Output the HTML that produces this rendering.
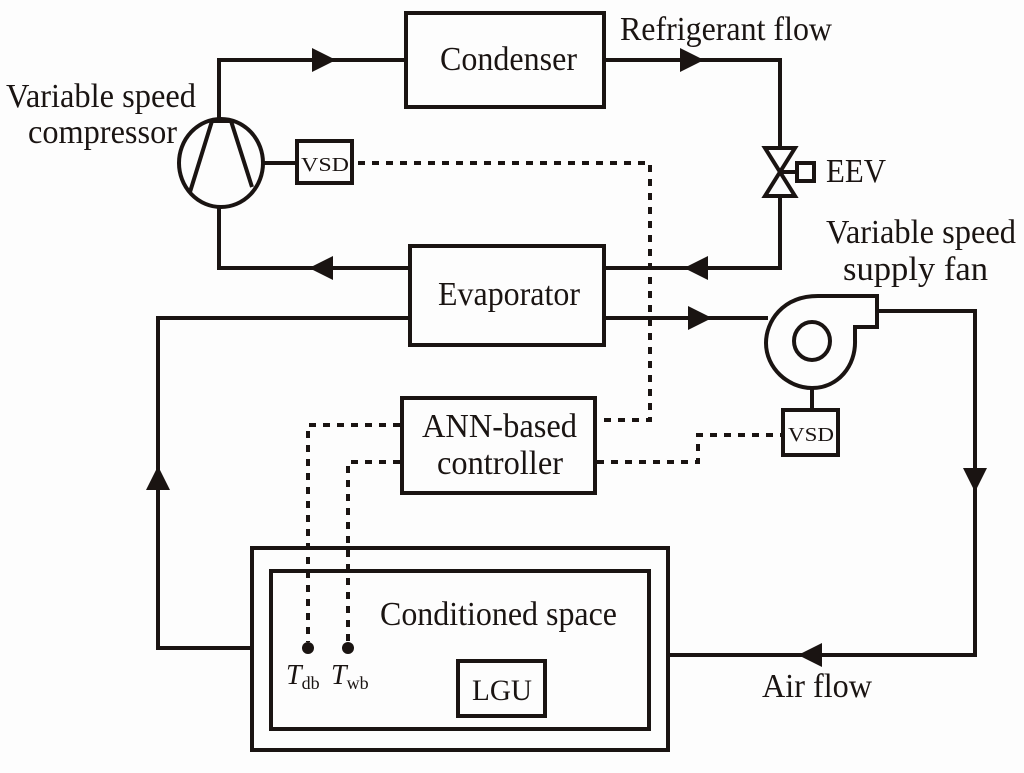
<!DOCTYPE html>
<html><head><style>
body{margin:0;background:#fdfdfd;}
svg text{font-family:"Liberation Serif",serif;fill:#1a1412;}
</style></head><body>
<svg width="1024" height="768" viewBox="0 0 1024 768" xmlns="http://www.w3.org/2000/svg">
<g fill="none" stroke="#1a1412" stroke-width="4">
<rect x="406" y="13" width="198" height="94"/>
<rect x="410" y="246" width="194" height="99"/>
<rect x="402" y="398" width="193" height="95"/>
<rect x="252" y="548" width="416" height="202"/>
<rect x="271" y="571" width="378" height="158"/>
<rect x="458" y="661" width="87" height="55"/>
<rect x="297" y="141" width="55" height="42"/>
<rect x="783" y="410" width="55" height="45"/>
<ellipse cx="221" cy="163" rx="42" ry="44"/>
<polyline points="190,192 212,121 231,121 252,187"/>
<line x1="263" y1="163" x2="297" y2="163"/>
<polyline points="219,119 219,60 406,60"/>
<polyline points="604,60 780,60 780,148"/>
<polyline points="219,207 219,268 410,268"/>
<polyline points="604,268 780,268 780,196"/>
<polygon points="765,148 795,148 765,196 795,196" stroke-linejoin="miter"/>
<line x1="780" y1="172" x2="795" y2="172"/>
<rect x="797" y="163" width="17" height="18"/>
<polyline points="410,318 158,318 158,648 252,648"/>
<line x1="604" y1="318" x2="768" y2="318"/>
<path d="M877,296 L818,296 C782,296 766,322 766,343 C766,368 788,388 812,388 C838,388 856,366 855,340 L855,327 L877,327 Z" stroke-linejoin="miter"/>
<ellipse cx="812" cy="341" rx="18" ry="19"/>
<line x1="812" y1="388" x2="812" y2="410"/>
<polyline points="877,311 975,311 975,655 668,655"/>
</g>
<g fill="#1a1412">
<polygon points="312,48 336,60 312,72"/>
<polygon points="680,48 704,60 680,72"/>
<polygon points="333,256 309,268 333,280"/>
<polygon points="708,256 684,268 708,280"/>
<polygon points="688,306 712,318 688,330"/>
<polygon points="146,490 158,466 170,490"/>
<polygon points="963,468 975,492 987,468"/>
<polygon points="822,643 798,655 822,667"/>
<circle cx="308" cy="648" r="6"/>
<circle cx="348" cy="648" r="6"/>
</g>
<g fill="none" stroke="#1a1412" stroke-width="4" stroke-dasharray="7,7">
<polyline points="358,163 650,163 650,420 597,420"/>
<polyline points="400,425 308,425 308,642"/>
<polyline points="400,462 348,462 348,642"/>
<polyline points="597,462 698,462 698,435 783,435"/>
</g>
<g font-size="34">
<text x="440" y="70" textLength="137" lengthAdjust="spacingAndGlyphs">Condenser</text>
<text x="438" y="305" textLength="142" lengthAdjust="spacingAndGlyphs">Evaporator</text>
<text x="422" y="437" textLength="155" lengthAdjust="spacingAndGlyphs">ANN-based</text>
<text x="437" y="474" textLength="126" lengthAdjust="spacingAndGlyphs">controller</text>
<text x="380" y="625" textLength="237" lengthAdjust="spacingAndGlyphs">Conditioned space</text>
<text x="620" y="40" textLength="212" lengthAdjust="spacingAndGlyphs">Refrigerant flow</text>
<text x="6" y="107" textLength="190" lengthAdjust="spacingAndGlyphs">Variable speed</text>
<text x="28" y="143" textLength="149" lengthAdjust="spacingAndGlyphs">compressor</text>
<text x="826" y="182" textLength="60" lengthAdjust="spacingAndGlyphs">EEV</text>
<text x="826" y="243" textLength="190" lengthAdjust="spacingAndGlyphs">Variable speed</text>
<text x="843" y="280" textLength="145" lengthAdjust="spacingAndGlyphs">supply fan</text>
<text x="762" y="697" textLength="110" lengthAdjust="spacingAndGlyphs">Air flow</text>
<text x="472" y="700" textLength="60" lengthAdjust="spacingAndGlyphs" font-size="30">LGU</text>
</g>
<text x="301" y="171" font-size="20" textLength="48" lengthAdjust="spacingAndGlyphs">VSD</text>
<text x="788" y="441" font-size="20" textLength="46" lengthAdjust="spacingAndGlyphs">VSD</text>
<text x="286" y="684" font-size="28" font-style="italic">T<tspan font-size="18" font-style="normal" dy="5">db</tspan></text>
<text x="331" y="684" font-size="28" font-style="italic">T<tspan font-size="18" font-style="normal" dy="5">wb</tspan></text>
</svg>
</body></html>
